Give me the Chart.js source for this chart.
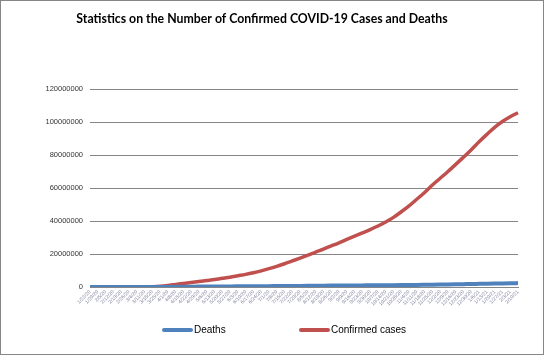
<!DOCTYPE html>
<html><head><meta charset="utf-8">
<script src="https://cdn.jsdelivr.net/npm/chart.js@4"></script>
<style>html,body{margin:0;padding:0;background:#fff}#wrap{width:544px;height:355px}</style>
</head><body><div id="wrap"><canvas id="c" width="544" height="355"></canvas></div>
<script>
const TITLE = "Statistics on the Number of Confirmed COVID-19 Cases and Deaths";
const dates = ["1/22/20","1/29/20","2/5/20","2/12/20","2/19/20","2/26/20","3/4/20","3/11/20","3/18/20","3/25/20",
"4/1/20","4/8/20","4/15/20","4/22/20","4/29/20","5/6/20","5/13/20","5/20/20","5/27/20","6/3/20",
"6/10/20","6/17/20","6/24/20","7/1/20","7/8/20","7/15/20","7/22/20","7/29/20","8/5/20","8/12/20",
"8/19/20","8/26/20","9/2/20","9/9/20","9/16/20","9/23/20","9/30/20","10/7/20","10/14/20","10/21/20",
"10/28/20","11/4/20","11/11/20","11/18/20","11/25/20","12/2/20","12/9/20","12/16/20","12/23/20","12/30/20",
"1/6/21","1/13/21","1/20/21","1/27/21","2/3/21","2/10/21"];
const deaths = [17,133,565,1118,2122,2800,3300,4600,8800,21000,
47000,88000,137000,184000,228000,264000,297000,327000,357000,387000,
418000,449000,485000,519000,556000,592000,630000,670000,711000,753000,
795000,834000,869000,904000,941000,980000,1016000,1055000,1093000,1134000,
1180000,1234000,1287000,1356000,1426000,1496000,1571000,1648000,1725000,1800000,
1895000,1993000,2090000,2185000,2270000,2350000];
const confirmed = [555,6000,28000,45000,76000,82000,95000,126000,220000,470000,
930000,1550000,2150000,2750000,3350000,3950000,4550000,5250000,5950000,6800000,
7650000,8650000,9800000,11100000,12500000,14100000,15800000,17500000,19300000,21200000,
23000000,24900000,26800000,28800000,30800000,32800000,34800000,37000000,39400000,42200000,
45600000,49200000,53200000,57300000,61800000,65900000,70000000,74300000,78700000,83200000,
88000000,92500000,96800000,100300000,103200000,105600000];
const yTicks = [0,20000000,40000000,60000000,80000000,100000000,120000000];
const seriesNames = ["Deaths","Confirmed cases"];
const colors = ["#4F81BD","#C0504D"];

const framePlugin = {
  id:'frame',
  beforeDraw(chart){
    const c=chart.ctx; c.save(); c.fillStyle='#fff'; c.fillRect(0,0,chart.width,chart.height); c.restore();
  },
  afterDraw(chart){
    const c=chart.ctx; c.save();
    c.strokeStyle='#868686'; c.lineWidth=1; c.strokeRect(0.5,0.5,chart.width-1,chart.height-1);
    c.fillStyle='#000'; c.font='bold 12.3px Lato'; c.textAlign='center'; c.textBaseline='middle';
    c.fillText(TITLE, 262, 19);
    const items=[{x:163,ds:0},{x:300,ds:1}];
    c.font='10px "Liberation Sans"'; c.textAlign='left';
    items.forEach(it=>{
      const ds=chart.data.datasets[it.ds];
      c.strokeStyle=ds.borderColor; c.lineWidth=4; c.lineCap='round';
      c.beginPath(); c.moveTo(it.x+1,330); c.lineTo(it.x+28,330); c.stroke();
      c.fillStyle='#000'; c.fillText(ds.label, it.x+31, 330);
    });
    c.restore();
  }
};

new Chart(document.getElementById('c'),{
  type:'line',
  data:{labels:dates,datasets:[
    {label:seriesNames[0],data:deaths,borderColor:colors[0],backgroundColor:colors[0],borderWidth:4,pointRadius:0,cubicInterpolationMode:'monotone'},
    {label:seriesNames[1],data:confirmed,borderColor:colors[1],backgroundColor:colors[1],borderWidth:3.5,pointRadius:0,cubicInterpolationMode:'monotone'}
  ]},
  options:{
    responsive:false,animation:false,
    layout:{padding:{top:89,right:26,bottom:38,left:0}},
    plugins:{legend:{display:false},title:{display:false},tooltip:{enabled:false}},
    scales:{
      x:{offset:false,
        grid:{display:false,drawTicks:false},
        border:{display:true,color:'#868686',width:1},
        ticks:{autoSkip:false,maxRotation:45,minRotation:45,padding:2,font:{size:5,family:'Liberation Sans'},color:'#7f7f9f'},
        afterFit(s){s.height=30;}
      },
      y:{min:0,max:120000000,
        afterBuildTicks(s){s.ticks=yTicks.map(v=>({value:v}));},
        grid:{color:'#868686',lineWidth:1,drawTicks:false},
        border:{display:false},
        ticks:{padding:7,font:{size:7.5,family:'Liberation Sans'},color:'#333',callback:v=>String(v)},
        afterFit(s){s.width=90;}
      }
    }
  },
  plugins:[framePlugin]
});
</script></body></html>
